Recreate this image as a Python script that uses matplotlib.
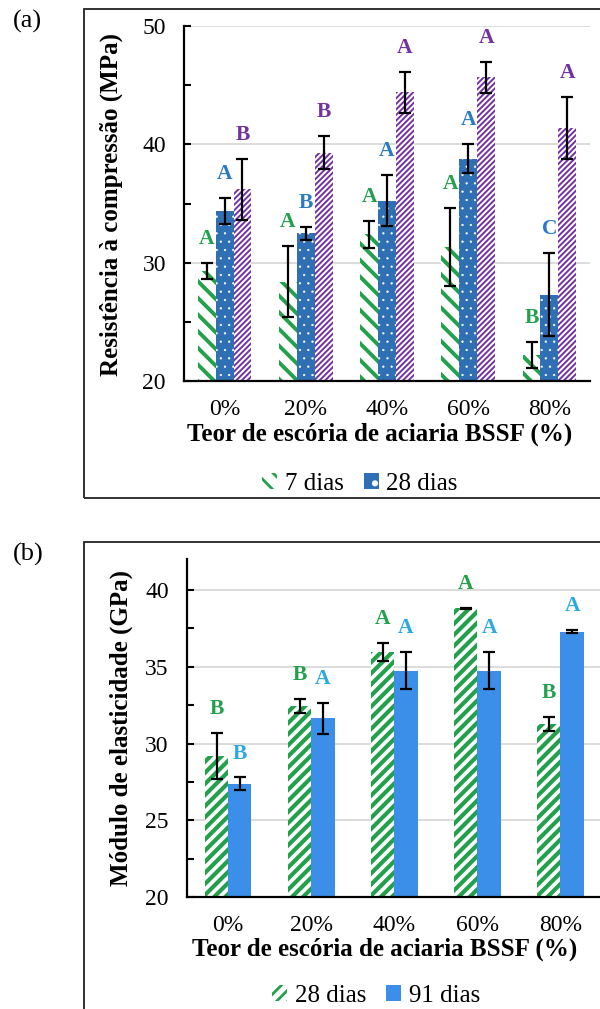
import matplotlib.pyplot as plt
import matplotlib.patches as mpatches
import numpy as np

plt.rcParams['font.family'] = ['Liberation Serif', 'DejaVu Serif']
plt.rcParams['hatch.linewidth'] = 2.0

categories = ['0%', '20%', '40%', '60%', '80%']

# (a) resistencia a compressao (MPa)
rc_7 = [29.3, 28.4, 32.4, 31.35, 22.2]
rc_7_err = [0.7, 3.0, 1.15, 3.3, 1.1]
rc_28 = [34.4, 32.5, 35.25, 38.8, 27.3]
rc_28_err = [1.1, 0.55, 2.15, 1.25, 3.5]
rc_91 = [36.2, 39.3, 44.4, 45.65, 41.4]
rc_91_err = [2.6, 1.4, 1.75, 1.35, 2.6]
let_a7 = ['A', 'A', 'A', 'A', 'B']
let_a28 = ['A', 'B', 'A', 'A', 'C']
let_a91 = ['B', 'B', 'A', 'A', 'A']

# (b) modulo de elasticidade (GPa)
me_28 = [29.2, 32.45, 35.95, 38.8, 31.3]
me_28_err = [1.5, 0.45, 0.6, 0.05, 0.45]
me_91 = [27.4, 31.65, 34.75, 34.75, 37.3]
me_91_err = [0.4, 1.0, 1.2, 1.2, 0.1]
let_b28 = ['B', 'B', 'A', 'A', 'B']
let_b91 = ['B', 'A', 'A', 'A', 'A']

green = '#23a04c'
blue_a = '#2f6fb3'
purple = '#7332a2'
blue_b = '#3b8fe8'
txt_blue_a = '#2a7bc2'
txt_blue_b = '#2aa9e3'

W, H = 600, 1009
fig = plt.figure(figsize=(6, 10.09), dpi=100)


def ax_rect(left, top, right, bottom):
    return [left / W, 1 - bottom / H, (right - left) / W, (bottom - top) / H]


def style_axes(ax, ymin, ymax, major, minor):
    ax.set_xlim(-0.5, 4.5)
    ax.set_ylim(ymin, ymax)
    ax.set_yticks(np.arange(ymin, ymax + 0.01, major))
    ax.set_yticks(np.arange(ymin + minor, ymax, major), minor=True)
    ax.yaxis.grid(True, color='#d6d6d6', lw=1.2)
    ax.set_axisbelow(True)
    for s in ['top', 'right']:
        ax.spines[s].set_visible(False)
    ax.spines['left'].set_linewidth(1.6)
    ax.spines['bottom'].set_linewidth(1.6)
    ax.tick_params(axis='y', which='both', direction='in', length=5, width=1.5,
                   labelsize=17, pad=13)
    ax.tick_params(axis='x', length=0, labelsize=17, pad=13)
    ax.set_xticks(range(len(categories)))
    ax.set_xticklabels(categories)


def letters(ax, xs, tops, labels, color):
    for x, t, l in zip(xs, tops, labels):
        ax.annotate(l, (x, t), xytext=(0, 10), textcoords='offset points',
                    ha='center', va='bottom', fontsize=15.5, fontweight='bold',
                    color=color)


def set_hlw(bars, lw):
    for p in bars:
        if hasattr(p, 'set_hatch_linewidth'):
            p.set_hatch_linewidth(lw)


x = np.arange(len(categories))
ekw = dict(ecolor='black', elinewidth=1.6, capsize=4, capthick=1.6)

# ---------------- (a)
ax1 = fig.add_axes(ax_rect(184, 26, 590, 381))
w = 0.22
b7 = ax1.bar(x - w, rc_7, w, yerr=rc_7_err, color='white', edgecolor=green,
             linewidth=0, hatch='\\\\', error_kw=ekw, label='7 dias')
set_hlw(b7, 2.8)
b28 = ax1.bar(x, rc_28, w, yerr=rc_28_err, color=blue_a, edgecolor='white',
              linewidth=0, hatch='..', error_kw=ekw, label='28 dias')
set_hlw(b28, 0.4)
b91 = ax1.bar(x + w, rc_91, w, yerr=rc_91_err, color='white', edgecolor=purple,
              linewidth=0, hatch='//////', error_kw=ekw)
set_hlw(b91, 1.4)
style_axes(ax1, 20, 50, 10, 5)
letters(ax1, x - w, np.array(rc_7) + rc_7_err, let_a7, green)
letters(ax1, x, np.array(rc_28) + rc_28_err, let_a28, txt_blue_a)
letters(ax1, x + w, np.array(rc_91) + rc_91_err, let_a91, purple)
ax1.set_xlabel('Teor de escória de aciaria BSSF (%)', fontsize=18,
               fontweight='bold', labelpad=1)
ax1.xaxis.set_label_coords((380 - 184) / 406, -0.118)
fig.text(111 / W, 1 - 204 / H, 'Resistência à compressão (MPa)', rotation=90,
         ha='center', va='center', fontsize=18, fontweight='bold')
h1 = [mpatches.Patch(facecolor='white', edgecolor=green, hatch='\\\\', lw=0),
      mpatches.Patch(facecolor=blue_a, edgecolor='white', hatch='.', lw=0)]
fig.legend(h1, ['7 dias', '28 dias'], loc='center', bbox_to_anchor=(360 / W, 1 - 484 / H),
           ncol=2, frameon=False, fontsize=18, handlelength=0.6, handleheight=0.6,
           handletextpad=0.3, columnspacing=0.8)

# ---------------- (b)
ax2 = fig.add_axes(ax_rect(186.7, 559.3, 602, 897.3))
w2 = 0.28
c28 = ax2.bar(x - w2 / 2, me_28, w2, yerr=me_28_err, color='white', edgecolor=green,
              linewidth=0, hatch='///', error_kw=ekw, label='28 dias')
set_hlw(c28, 3.0)
c91 = ax2.bar(x + w2 / 2, me_91, w2, yerr=me_91_err, color=blue_b, linewidth=0,
              error_kw=ekw, label='91 dias')
style_axes(ax2, 20, 42, 5, 2.5)
ax2.set_yticks([20, 25, 30, 35, 40])
ax2.set_yticks([22.5, 27.5, 32.5, 37.5], minor=True)
letters(ax2, x - w2 / 2, np.array(me_28) + me_28_err, let_b28, green)
letters(ax2, x + w2 / 2, np.array(me_91) + me_91_err, let_b91, txt_blue_b)
ax2.set_xlabel('Teor de escória de aciaria BSSF (%)', fontsize=18,
               fontweight='bold', labelpad=1)
ax2.xaxis.set_label_coords((385 - 186.7) / 415.3, -0.118)
fig.text(121 / W, 1 - 728 / H, 'Módulo de elasticidade (GPa)', rotation=90,
         ha='center', va='center', fontsize=18, fontweight='bold')
h2 = [mpatches.Patch(facecolor='white', edgecolor=green, hatch='///', lw=0),
      mpatches.Patch(facecolor=blue_b, lw=0)]
fig.legend(h2, ['28 dias', '91 dias'], loc='center', bbox_to_anchor=(376 / W, 1 - 996 / H),
           ncol=2, frameon=False, fontsize=18, handlelength=0.6, handleheight=0.6,
           handletextpad=0.3, columnspacing=0.8)

# outer frames and panel letters
fig.patches.append(mpatches.Rectangle((84 / W, 1 - 498 / H), 530 / W, 489 / H,
                                      transform=fig.transFigure, fill=False,
                                      edgecolor='#222222', lw=1.3))
fig.patches.append(mpatches.Rectangle((84 / W, 1 - 1030 / H), 530 / W, 488 / H,
                                      transform=fig.transFigure, fill=False,
                                      edgecolor='#222222', lw=1.3))
fig.text(27 / W, 1 - 21 / H, '(a)', ha='center', va='center', fontsize=19)
fig.text(28 / W, 1 - 554 / H, '(b)', ha='center', va='center', fontsize=19)

plt.savefig('out.png', dpi=100)
plt.close()
